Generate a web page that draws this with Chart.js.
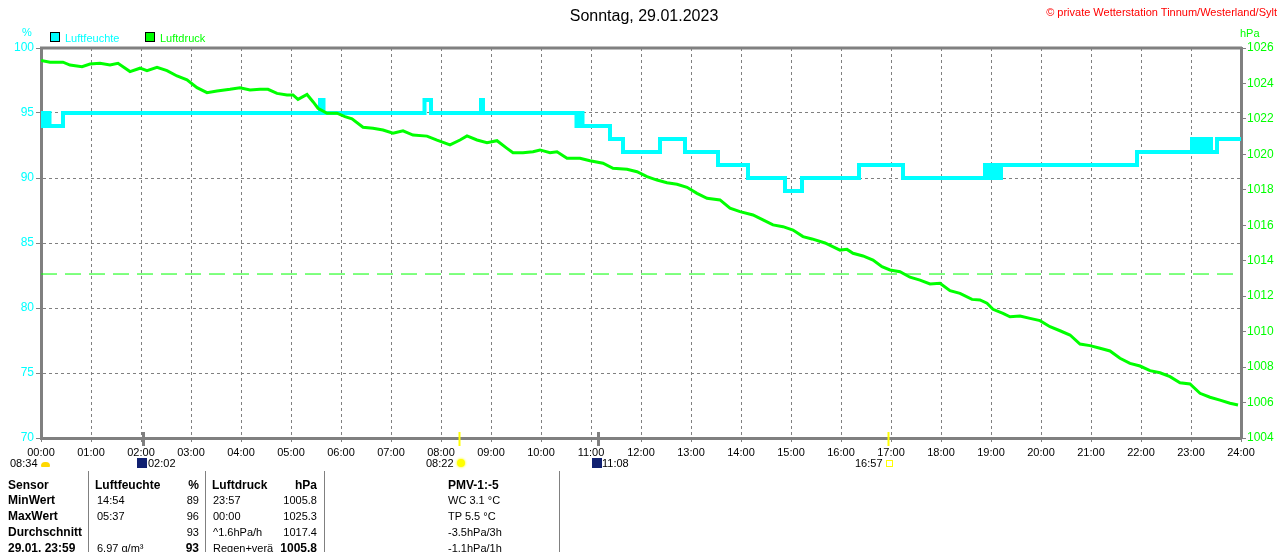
<!DOCTYPE html>
<html lang="de">
<head>
<meta charset="UTF-8">
<title>Wetterstation Tinnum - Luftfeuchte / Luftdruck</title>
<script src="https://cdn.jsdelivr.net/npm/chart.js"></script>
<style>
  body { margin: 0; background: #fff; font-family: "Liberation Sans", Arial, sans-serif; }
  #wrap { position: relative; width: 1280px; height: 552px; overflow: hidden; }
  #chart { position: absolute; left: 0; top: 0; }
  .t { position: absolute; font-size: 11px; line-height: 14px; white-space: nowrap; color: #000; }
  .b { font-weight: bold; font-size: 12px; }
  .sep { position: absolute; width: 1px; background: #808080; top: 471px; bottom: 0; }
  .box { position: absolute; width: 8px; height: 8px; border: 1px solid #000; }
</style>
</head>
<body>
<div id="wrap">
  <canvas id="chart" width="1280" height="552"></canvas>

  <div class="t" style="left:0;width:1280px;top:7px;text-align:center;font-size:16px;line-height:18px;padding-left:4px;">Sonntag, 29.01.2023</div>
  <div class="t" style="right:3px;top:5px;color:#ff0000;">© private Wetterstation Tinnum/Westerland/Sylt</div>

  <div class="t" style="left:22px;top:25px;color:#00ffff;">%</div>
  <div class="box" style="left:50px;top:32px;background:#00ffff;"></div>
  <div class="t" style="left:65px;top:31px;color:#00ffff;">Luftfeuchte</div>
  <div class="box" style="left:145px;top:32px;background:#00ff00;"></div>
  <div class="t" style="left:160px;top:31px;color:#00ff00;">Luftdruck</div>
  <div class="t" style="left:1240px;top:26px;color:#00ff00;">hPa</div>

  <div id="below"></div>
</div>

<script>
// x axis: hours of the day
const xTickLabels = ['00:00','01:00','02:00','03:00','04:00','05:00','06:00','07:00','08:00','09:00','10:00','11:00','12:00',
                     '13:00','14:00','15:00','16:00','17:00','18:00','19:00','20:00','21:00','22:00','23:00','24:00'];

// Luftfeuchte in %, step values (value holds until next time)
const humidTime = [0, 0.01, 0.06, 0.10, 0.17, 0.44, 5.58, 5.65, 7.67, 7.80, 8.80, 8.84, 10.71, 10.77, 10.83,
                   11.38, 11.64, 12.38, 12.88, 13.54, 14.14, 14.88, 15.22, 16.36, 17.24,
                   18.88, 18.94, 18.98, 19.04, 19.10, 19.14, 19.20, 21.92,
                   23.02, 23.08, 23.12, 23.20, 23.24, 23.30, 23.36, 23.40, 23.52, 24.0];
const humidVal  = [94, 95, 94, 95, 94, 95, 96, 95, 96, 95, 96, 95, 94, 95, 94,
                   93, 92, 93, 92, 91, 90, 89, 90, 91, 90,
                   91, 90, 91, 90, 91, 90, 91, 92,
                   93, 92, 93, 92, 93, 92, 93, 92, 93, 93];

// Luftdruck in hPa
const pressTime = [0.00, 0.18, 0.44, 0.58, 0.82, 0.98, 1.18, 1.38, 1.54, 1.78, 1.98, 2.12, 2.32, 2.52, 2.72, 2.92,
                   3.12, 3.32, 3.52, 3.78, 3.98, 4.18, 4.38, 4.54, 4.72, 4.92, 5.04, 5.14, 5.32, 5.44, 5.54, 5.72,
                   5.92, 6.08, 6.22, 6.44, 6.64, 6.84, 7.04, 7.24, 7.44, 7.72, 7.92, 8.18, 8.38, 8.52, 8.72, 8.92,
                   9.12, 9.32, 9.44, 9.64, 9.84, 9.98, 10.18, 10.32, 10.52, 10.78, 10.98, 11.24, 11.44, 11.72, 11.92,
                   12.12, 12.32, 12.52, 12.72, 12.92, 13.12, 13.32, 13.58, 13.78, 13.98, 14.24, 14.44, 14.64, 14.84,
                   15.04, 15.24, 15.42, 15.68, 15.98, 16.12, 16.24, 16.44, 16.64, 16.82, 16.98, 17.18, 17.38, 17.58,
                   17.78, 17.98, 18.18, 18.38, 18.62, 18.78, 18.92, 19.04, 19.24, 19.38, 19.58, 19.78, 19.98, 20.18,
                   20.38, 20.58, 20.78, 20.98, 21.18, 21.38, 21.58, 21.78, 21.98, 22.18, 22.38, 22.58, 22.78, 22.98,
                   23.18, 23.38, 23.58, 23.78, 23.94];
const pressVal  = [1025.3, 1025.2, 1025.2, 1025.04, 1024.95, 1025.1, 1025.14, 1025.04, 1025.14, 1024.67, 1024.86, 1024.72,
                   1024.91, 1024.72, 1024.42, 1024.2, 1023.76, 1023.48, 1023.57, 1023.67, 1023.76, 1023.63, 1023.67,
                   1023.67, 1023.44, 1023.35, 1023.35, 1023.1, 1023.38, 1022.97, 1022.6, 1022.32, 1022.32, 1022.13,
                   1022.0, 1021.53, 1021.47, 1021.37, 1021.19, 1021.33, 1021.09, 1021.03, 1020.8, 1020.53, 1020.81,
                   1021.04, 1020.81, 1020.66, 1020.77, 1020.34, 1020.09, 1020.09, 1020.15, 1020.25, 1020.09, 1020.15,
                   1019.78, 1019.78, 1019.64, 1019.5, 1019.21, 1019.16, 1019.02, 1018.74, 1018.55, 1018.4, 1018.31,
                   1018.14, 1017.8, 1017.52, 1017.43, 1016.96, 1016.77, 1016.58, 1016.3, 1016.02, 1015.92, 1015.73,
                   1015.36, 1015.23, 1015.0, 1014.6, 1014.64, 1014.42, 1014.27, 1014.04, 1013.66, 1013.48, 1013.38,
                   1013.07, 1012.91, 1012.69, 1012.73, 1012.31, 1012.16, 1011.82, 1011.79, 1011.6, 1011.26, 1011.03,
                   1010.84, 1010.88, 1010.75, 1010.62, 1010.28, 1010.05, 1009.81, 1009.3, 1009.21, 1009.06, 1008.91,
                   1008.5, 1008.21, 1008.06, 1007.8, 1007.68, 1007.46, 1007.12, 1007.05, 1006.52, 1006.3, 1006.14,
                   1005.96, 1005.86];

// reference line (normal pressure)
const normalPressure = 1013.25;

// moon rise 02:02, sun rise 08:22, moon set 11:08, sun set 16:57
const markerTimes = [2.033, 8.367, 11.133, 16.95];
const markerKinds = ['moon', 'sun', 'moon', 'sun'];

// table below the chart
const tableRows = [
  ['Sensor',       'Luftfeuchte', '%',  'Luftdruck',  'hPa',    'PMV-1:-5'],
  ['MinWert',      ' 14:54',      '89', ' 23:57',     '1005.8', 'WC 3.1 °C'],
  ['MaxWert',      ' 05:37',      '96', ' 00:00',     '1025.3', 'TP 5.5 °C'],
  ['Durchschnitt', '',            '93', '^1.6hPa/h',  '1017.4', '-3.5hPa/3h'],
  ['29.01. 23:59', '6.97 g/m³',   '93', 'Regen+verä', '1005.8', '-1.1hPa/1h']
];

const below = document.getElementById('below');
function txt(html, style, cls) {
  const d = document.createElement('div');
  d.className = 't ' + (cls || '');
  d.style.cssText = style;
  d.innerHTML = html;
  below.appendChild(d);
  return d;
}

// sun / moon times under the x axis
txt('08:34 <span style="display:inline-block;width:9px;height:5px;background:#ffd800;border-radius:4px 4px 1px 1px;"></span>', 'left:10px;top:456px;');
txt('<span style="display:inline-block;width:10px;height:10px;background:#102070;vertical-align:-1px;border-right:1px solid #fff;"></span>02:02', 'left:137px;top:456px;');
txt('08:22 <span style="display:inline-block;width:8px;height:8px;background:#ffff00;border-radius:50%;box-shadow:0 0 2px 1px #ffff80;"></span>', 'left:426px;top:456px;');
txt('<span style="display:inline-block;width:10px;height:10px;background:#102070;vertical-align:-1px;"></span>11:08', 'left:592px;top:456px;');
txt('16:57 <span style="display:inline-block;width:5px;height:5px;border:1px solid #ffff00;"></span>', 'left:855px;top:456px;');

const rowY = [478, 493, 509, 525, 541];
tableRows.forEach((row, i) => {
  const head = i === 0;
  const last = i === tableRows.length - 1;
  txt(row[0], 'left:8px;top:' + rowY[i] + 'px;', 'b');
  txt(row[1], 'left:' + (head ? 95 : 97) + 'px;top:' + rowY[i] + 'px;', head ? 'b' : '');
  txt(row[2], 'right:' + (1280 - 199) + 'px;top:' + rowY[i] + 'px;', (head || last) ? 'b' : '');
  txt(row[3], 'left:' + (head ? 212 : 213) + 'px;top:' + rowY[i] + 'px;', head ? 'b' : '');
  txt(row[4], 'right:' + (1280 - 317) + 'px;top:' + rowY[i] + 'px;', (head || last) ? 'b' : '');
  txt(row[5], 'left:' + (head ? 448 : 448) + 'px;top:' + rowY[i] + 'px;', head ? 'b' : '');
});
[88, 205, 324, 559].forEach(x => {
  const s = document.createElement('div');
  s.className = 'sep';
  s.style.left = x + 'px';
  below.appendChild(s);
});

const frameAndMarkers = {
  id: 'frameAndMarkers',
  afterDraw(chart) {
    const {ctx, chartArea: a, scales: {x}} = chart;
    ctx.save();
    ctx.strokeStyle = '#808080';
    ctx.lineWidth = 3;
    ctx.beginPath();
    ctx.moveTo(a.left - 1, a.top);
    ctx.lineTo(a.right + 1, a.top);
    ctx.stroke();
    markerTimes.forEach((t, i) => {
      const px = Math.round(x.getPixelForValue(t)) + 0.5;
      ctx.strokeStyle = markerKinds[i] === 'sun' ? '#ffff00' : '#808080';
      ctx.lineWidth = markerKinds[i] === 'sun' ? 2 : 3;
      ctx.beginPath();
      ctx.moveTo(px, a.bottom - 6);
      ctx.lineTo(px, a.bottom + 8);
      ctx.stroke();
    });
    ctx.restore();
  }
};

Chart.defaults.font.family = '"Liberation Sans", Arial, sans-serif';
Chart.defaults.font.size = 11;

new Chart(document.getElementById('chart'), {
  type: 'line',
  data: {
    datasets: [
      {
        label: 'Luftfeuchte',
        data: humidTime.map((t, i) => ({x: t, y: humidVal[i]})),
        yAxisID: 'yH',
        borderColor: '#00ffff',
        borderWidth: 4,
        stepped: 'before',
        pointRadius: 0,
        order: 2
      },
      {
        label: 'Luftdruck',
        data: pressTime.map((t, i) => ({x: t, y: pressVal[i]})),
        yAxisID: 'yP',
        borderColor: '#00ff00',
        borderWidth: 3,
        pointRadius: 0,
        tension: 0,
        order: 1
      },
      {
        label: 'Normaldruck',
        data: [{x: 0, y: normalPressure}, {x: 24, y: normalPressure}],
        yAxisID: 'yP',
        borderColor: '#00ff00',
        borderWidth: 1,
        borderDash: [16, 8],
        pointRadius: 0,
        order: 3
      }
    ]
  },
  options: {
    responsive: false,
    animation: false,
    layout: { padding: { top: 48, left: 0, right: 0, bottom: 92 } },
    plugins: { legend: { display: false }, tooltip: { enabled: false } },
    scales: {
      x: {
        type: 'linear',
        min: 0,
        max: 24,
        afterFit: s => { s.height = 22; },
        ticks: {
          stepSize: 1,
          autoSkip: false,
          maxRotation: 0,
          padding: 4,
          color: '#000',
          callback: v => xTickLabels[v]
        },
        grid: { color: '#808080', lineWidth: 1, tickLength: 4 },
        border: { color: '#808080', width: 3, dash: [3, 3] }
      },
      yH: {
        position: 'left',
        min: 70,
        max: 100,
        afterFit: s => { s.width = 41; },
        ticks: { stepSize: 5, color: '#00ffff', padding: 2, font: { size: 12 } },
        grid: { color: '#808080', lineWidth: 1, tickLength: 5 },
        border: { color: '#808080', width: 3, dash: [3, 3] }
      },
      yP: {
        position: 'right',
        min: 1004,
        max: 1026,
        afterFit: s => { s.width = 39; },
        ticks: { stepSize: 2, color: '#00ff00', padding: 1, font: { size: 12 }, callback: v => String(v) },
        grid: { drawOnChartArea: false, color: '#808080', tickLength: 5 },
        border: { color: '#808080', width: 3 }
      }
    }
  },
  plugins: [frameAndMarkers]
});
</script>
</body>
</html>
